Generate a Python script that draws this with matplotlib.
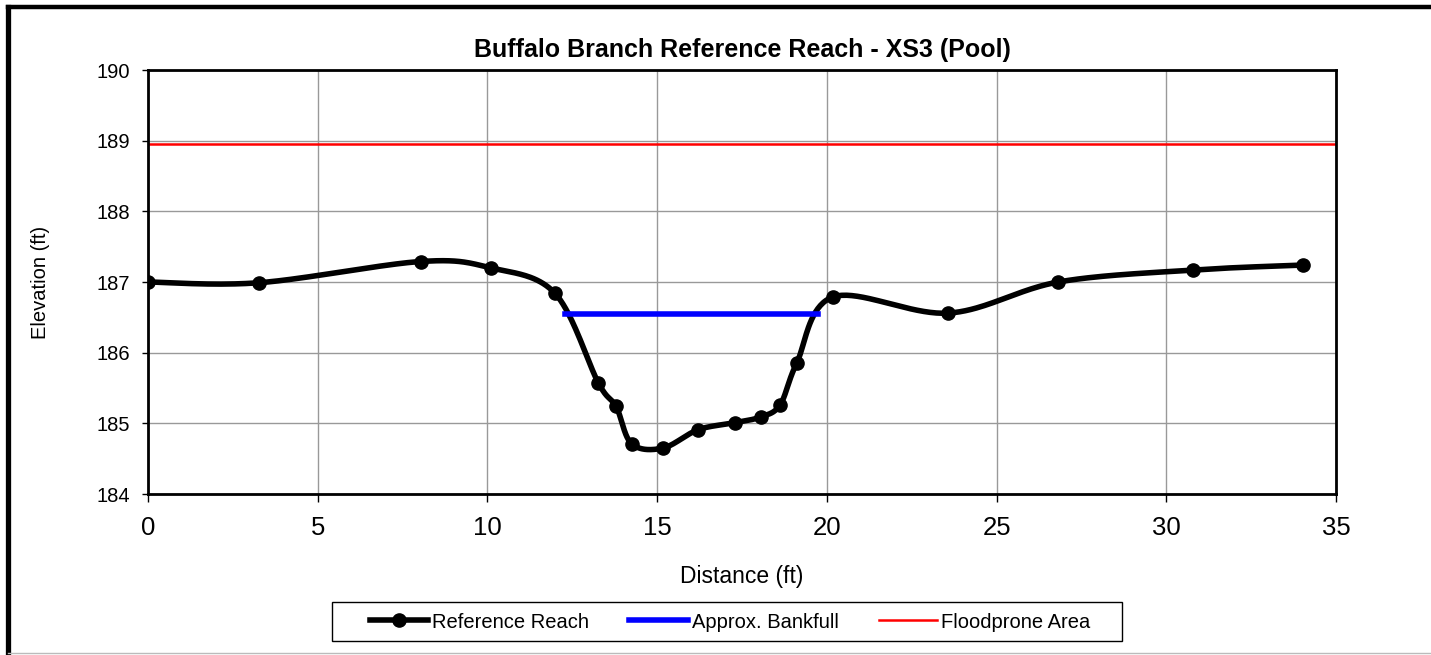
import numpy as np
import matplotlib.pyplot as plt
from matplotlib.patches import Rectangle
from matplotlib.lines import Line2D

plt.rcParams['font.family'] = ['Liberation Sans', 'DejaVu Sans']

# surveyed cross-section (station, elevation)
station = [0.0, 3.28, 8.03, 10.1, 11.99, 13.27, 13.79, 14.25, 15.17, 16.21,
           17.30, 18.05, 18.62, 19.11, 20.19, 23.58, 26.82, 30.8, 34.04]
elevation = [187.0, 186.99, 187.29, 187.2, 186.84, 185.57, 185.24, 184.71, 184.65, 184.91,
             185.01, 185.09, 185.26, 185.85, 186.79, 186.56, 187.0, 187.17, 187.24]

bankfull_x = [12.29, 19.74]
bankfull_elev = 186.55
floodprone_elev = 188.95


def smooth_curve(x, y, n=40):
    # cubic bezier through the points, control handles from neighbours (spreadsheet-style smoothing)
    p = np.column_stack([x, y])
    out = []
    for i in range(len(p) - 1):
        p0 = p[i - 1] if i > 0 else p[i]
        p3 = p[i + 2] if i + 2 < len(p) else p[i + 1]
        c1 = p[i] + (p[i + 1] - p0) / 6
        c2 = p[i + 1] - (p3 - p[i]) / 6
        t = np.linspace(0, 1, n)[:, None]
        seg = ((1 - t) ** 3 * p[i] + 3 * (1 - t) ** 2 * t * c1
               + 3 * (1 - t) * t ** 2 * c2 + t ** 3 * p[i + 1])
        out.append(seg if i == 0 else seg[1:])
    curve = np.vstack(out)
    return curve[:, 0], curve[:, 1]


W, H = 1431, 655
fig = plt.figure(figsize=(W / 100, H / 100), dpi=100)
ax = fig.add_axes([148 / W, 1 - 494 / H, (1336 - 148) / W, (494 - 70) / H])

sx, sy = smooth_curve(station, elevation)
ax.plot(sx, sy, color='black', lw=4, zorder=3)
ax.plot(station, elevation, 'o', color='black', ms=9.5, zorder=4)
ref_handle, = ax.plot([], [], '-o', color='black', lw=4, ms=9.5)

bf, = ax.plot(bankfull_x, [bankfull_elev] * 2, color='#0000ff', lw=4, zorder=5)
fp = ax.axhline(floodprone_elev, color='#ff0000', lw=1.8, zorder=2)

ax.set_xlim(0, 35)
ax.set_ylim(184, 190)
ax.set_xticks(np.arange(0, 36, 5))
ax.set_yticks(np.arange(184, 191, 1))
ax.grid(True, color='#999999', lw=1)
ax.set_axisbelow(True)
for s in ax.spines.values():
    s.set_linewidth(2)
ax.tick_params(axis='x', labelsize=18.5, length=6, width=1, pad=10)
ax.tick_params(axis='y', labelsize=14.5, length=4, width=1, pad=9)

ax.set_xlabel('Distance (ft)', fontsize=16.5, labelpad=18)
ax.set_ylabel('Elevation (ft)', fontsize=14.5, labelpad=33)
ax.set_title('Buffalo Branch Reference Reach - XS3 (Pool)', fontsize=18,
             fontweight='bold', pad=9)

# legend entries without frame, box drawn separately for the wider side margins
leg = fig.legend([ref_handle, bf, fp],
                 ['Reference Reach', 'Approx. Bankfull', 'Floodprone Area'],
                 loc='center', bbox_to_anchor=(730 / W, 1 - 622 / H), ncol=3,
                 fontsize=14.5, frameon=False,
                 handlelength=2.9, handletextpad=0.2, columnspacing=2.0)
fig.patches.append(Rectangle((332 / W, 1 - 641 / H), (1122 - 332) / W, 39 / H,
                             transform=fig.transFigure, fill=False,
                             edgecolor='black', lw=1))

# outer chart border: heavy left/top, light bottom
fig.lines.append(Line2D([8 / W, 8 / W], [0, 1 - 7 / H], transform=fig.transFigure,
                        color='black', lw=3.8, solid_capstyle='projecting'))
fig.lines.append(Line2D([8 / W, 1], [1 - 7 / H, 1 - 7 / H], transform=fig.transFigure,
                        color='black', lw=3.2, solid_capstyle='projecting'))
fig.lines.append(Line2D([8 / W, 1], [1 - 653 / H, 1 - 653 / H], transform=fig.transFigure,
                        color='#bbbbbb', lw=1))

fig.savefig('out.png', dpi=100)
